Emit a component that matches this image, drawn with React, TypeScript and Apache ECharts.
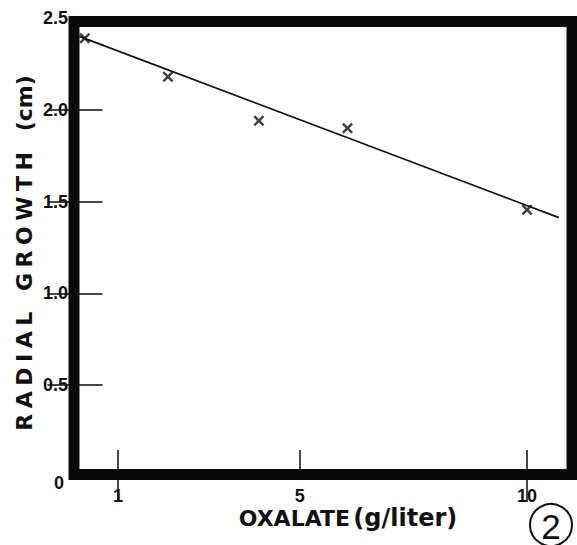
import React, { useEffect, useRef } from "react";
import * as echarts from "echarts";

// Measured data (oxalate g/liter vs radial growth cm)
const oxalate = [0.27, 2.1, 4.1, 6.05, 10.0];
const growth = [2.39, 2.18, 1.94, 1.9, 1.455];
// Fitted straight line end points
const fitX = [0.15, 10.7];
const fitY = [2.4, 1.413];
// Tick values / labels
const xTickValues = [1, 5, 10];
const xTopTickValues = [1, 10];
const yTickValues = [0.5, 1, 1.5, 2];
const yLabelValues = [0, 0.5, 1, 1.5, 2, 2.5];

const xTitleMain = "OXALATE";
const xTitleUnit = "(g/liter)";
const LS = "\u2005"; // letter spacing
const WS = "\u00a0\u00a0\u2005"; // word spacing
const yTitle = ["RADIAL", "GROWTH"].map((w) => w.split("").join(LS)).join(WS) + WS + "(cm)";
const figureNumber = "2";

const LABEL_FONT = "'Liberation Sans', Arial, sans-serif";
const TITLE_FONT = "'DejaVu Sans', sans-serif";

export default function App() {
  const ref = useRef<HTMLDivElement>(null);
  useEffect(() => {
    if (!ref.current) return;
    const chart = echarts.init(ref.current, null, { renderer: "svg" });
    const tickStyle = { color: "#1a1a1a", width: 1.6 };
    const option: any = {
      animation: false,
      backgroundColor: "#fff",
      grid: { left: 72.5, right: 4.5, top: 18, bottom: 68, containLabel: false },
      xAxis: [
        {
          type: "value",
          position: "bottom",
          min: 0,
          max: 11,
          axisLine: { show: false },
          splitLine: { show: false },
          axisTick: { show: true, inside: true, length: 27, lineStyle: tickStyle, customValues: xTickValues },
          axisLabel: {
            show: true,
            margin: 10,
            fontSize: 18,
            fontWeight: "bold",
            fontFamily: LABEL_FONT,
            color: "#111",
            customValues: xTickValues,
          },
        },
        {
          type: "value",
          position: "top",
          min: 0,
          max: 11,
          axisLine: { show: false },
          splitLine: { show: false },
          axisTick: { show: true, inside: true, length: 25, lineStyle: tickStyle, customValues: xTopTickValues },
          axisLabel: { show: false },
        },
      ],
      yAxis: [
        {
          type: "value",
          position: "left",
          min: 0,
          max: 2.5,
          interval: 0.5,
          axisLine: { show: false },
          splitLine: { show: false },
          axisTick: { show: true, inside: true, length: 30, lineStyle: tickStyle, customValues: yTickValues },
          axisLabel: {
            show: true,
            margin: 4.5,
            fontSize: 18,
            fontWeight: "bold",
            fontFamily: LABEL_FONT,
            color: "#111",
            customValues: yLabelValues,
            formatter: (v: number) => (v === 0 ? "{z|0}" : v.toFixed(1)),
            rich: {
              z: {
                fontSize: 18,
                fontWeight: "bold",
                fontFamily: LABEL_FONT,
                color: "#111",
                padding: [12, 4, 0, 0],
              },
            },
          },
        },
        {
          type: "value",
          position: "right",
          min: 0,
          max: 2.5,
          interval: 0.5,
          axisLine: { show: false },
          splitLine: { show: false },
          axisTick: { show: true, inside: true, length: 25, lineStyle: tickStyle, customValues: yTickValues },
          axisLabel: { show: false },
        },
      ],
      graphic: [
        {
          type: "rect",
          shape: { x: 74, y: 21.5, width: 498, height: 453 },
          style: { fill: "none", stroke: "#0a0a0a", lineWidth: 11 },
          z: 10,
        },
        {
          type: "text",
          x: 348,
          y: 518,
          style: {
            text: `{a|${xTitleMain}} {b|${xTitleUnit}}`,
            rich: {
              a: { fontFamily: TITLE_FONT, fontWeight: "bold", fontSize: 22, fill: "#111" },
              b: { fontFamily: TITLE_FONT, fontWeight: "bold", fontSize: 24, fill: "#111" },
            },
            fill: "#111",
            align: "center",
            verticalAlign: "middle",
          },
        },
        {
          type: "text",
          x: 24,
          y: 253,
          rotation: Math.PI / 2,
          style: {
            text: yTitle,
            font: `bold 22px ${TITLE_FONT}`,
            fill: "#111",
            align: "center",
            verticalAlign: "middle",
          },
        },
        {
          type: "circle",
          shape: { cx: 551, cy: 525, r: 21 },
          style: { fill: "none", stroke: "#111", lineWidth: 2 },
        },
        {
          type: "text",
          x: 551,
          y: 526,
          style: {
            text: figureNumber,
            font: `35px ${LABEL_FONT}`,
            fill: "#111",
            align: "center",
            verticalAlign: "middle",
          },
        },
      ],
      series: [
        {
          type: "line",
          data: fitX.map((x, i) => [x, fitY[i]]),
          showSymbol: false,
          symbol: "none",
          lineStyle: { color: "#111", width: 1.8 },
          silent: true,
          z: 2,
        },
        {
          type: "scatter",
          data: oxalate.map((x, i) => [x, growth[i]]),
          symbol: "path://M0,1.6L1.6,0L5,3.4L8.4,0L10,1.6L6.6,5L10,8.4L8.4,10L5,6.6L1.6,10L0,8.4L3.4,5Z",
          symbolSize: 11,
          itemStyle: { color: "#111" },
          z: 3,
        },
      ],
    };
    chart.setOption(option);
    return () => chart.dispose();
  }, []);
  return <div ref={ref} style={{ width: 577, height: 545, position: "absolute", left: 0, top: 0 }} />;
}
